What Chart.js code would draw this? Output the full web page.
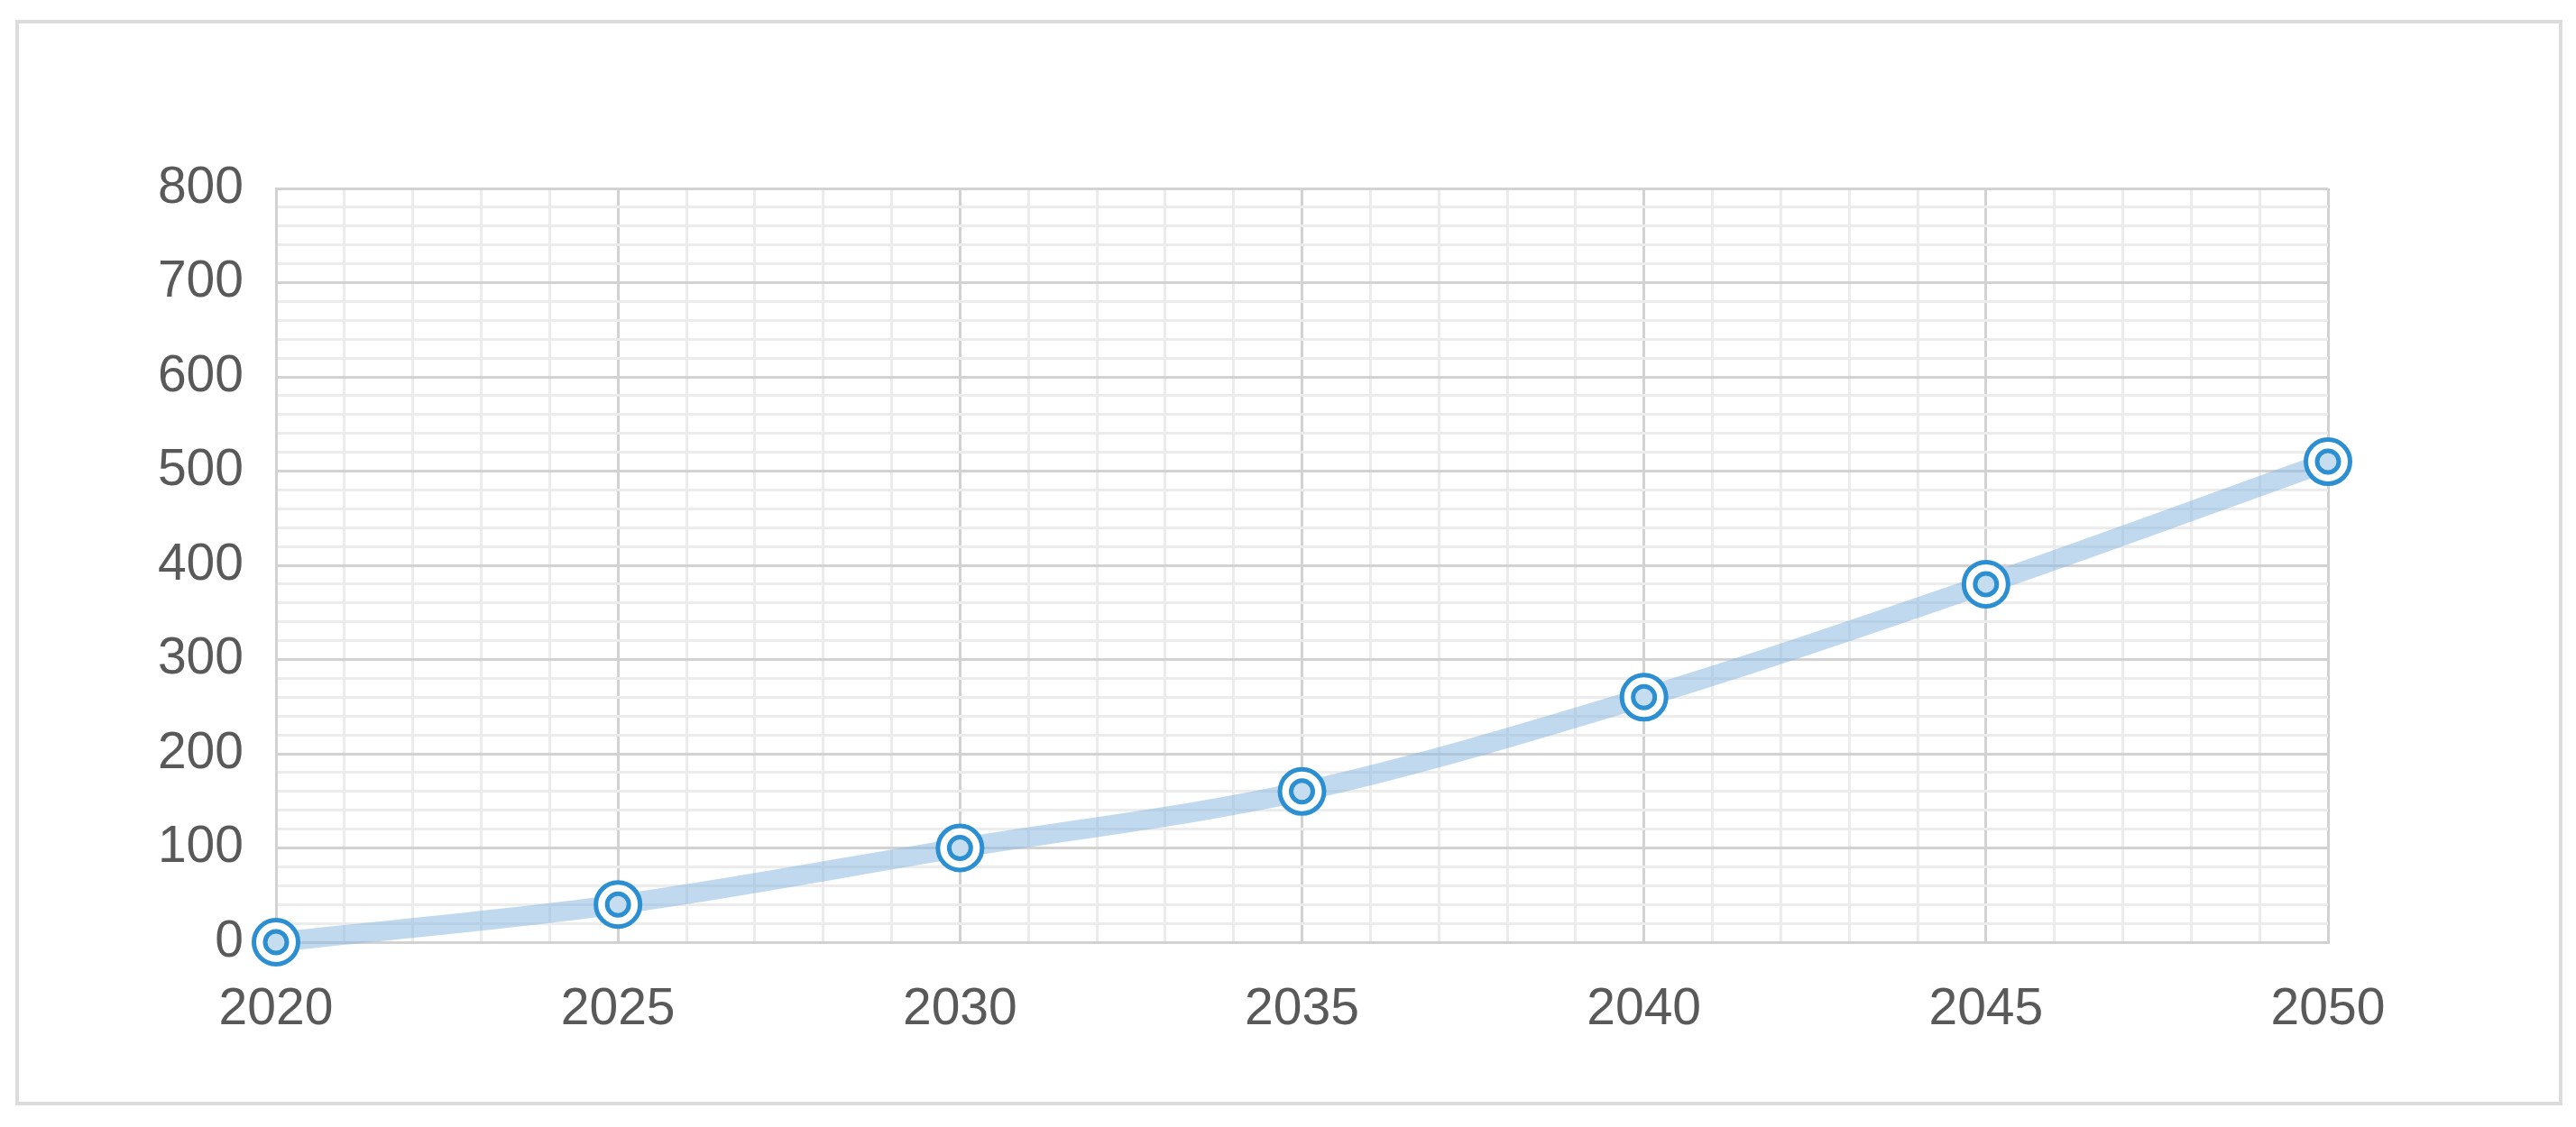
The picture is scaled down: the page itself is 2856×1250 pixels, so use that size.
<!DOCTYPE html>
<html>
<head>
<meta charset="utf-8">
<script src="https://cdn.jsdelivr.net/npm/chart.js@4"></script>
<style>
  html, body { margin: 0; padding: 0; background: #fff; }
  #frame {
    position: absolute; left: 17px; top: 22px; width: 2824px; height: 1204px;
    border: 4px solid #dcdcdc; box-sizing: border-box;
  }
  #wrap { position: absolute; left: 0; top: 0; width: 2856px; height: 1250px; }
</style>
</head>
<body>
<div id="frame"></div>
<div id="wrap"><canvas id="chart"></canvas></div>
<script>
// data
const years = [2020, 2025, 2030, 2035, 2040, 2045, 2050];
const values = [0, 40, 100, 160, 260, 380, 510];
const yTicks = [0, 100, 200, 300, 400, 500, 600, 700, 800];

const points = years.map((yr, i) => ({ x: yr, y: values[i] }));

const majorGrid = "#d2d2d2";
const minorGrid = "#ececec";
const textColor = "#595959";

const ctx = document.getElementById("chart").getContext("2d");

new Chart(ctx, {
    type: "line",
    data: {
        datasets: [
            {
                data: points,
                borderColor: "rgba(140,186,226,0.55)",
                borderWidth: 22,
                pointRadius: 0,
                cubicInterpolationMode: "monotone",
                clip: false,
                order: 3
            },
            {
                data: points,
                showLine: false,
                pointRadius: 24.5,
                pointBorderWidth: 5,
                pointBorderColor: "#2b8fd1",
                pointBackgroundColor: "#ffffff",
                clip: false,
                order: 2
            },
            {
                data: points,
                showLine: false,
                pointRadius: 12,
                pointBorderWidth: 5,
                pointBorderColor: "#2b8fd1",
                pointBackgroundColor: "#c6dcef",
                clip: false,
                order: 1
            }
        ]
    },
    options: {
        responsive: true,
        maintainAspectRatio: false,
        animation: false,
        layout: { padding: { left: 0, right: 275, top: 209, bottom: 0 } },
        plugins: { legend: { display: false }, tooltip: { enabled: false } },
        scales: {
            x: {
                type: "linear",
                min: years[0],
                max: years[years.length - 1],
                afterFit: (s) => { s.height = 205; },
                border: { color: majorGrid, width: 3 },
                grid: {
                    drawTicks: false,
                    lineWidth: 3,
                    color: (c) => (c.tick && c.tick.value % 5 === 0 ? majorGrid : minorGrid)
                },
                ticks: {
                    stepSize: 1,
                    autoSkip: false,
                    maxRotation: 0,
                    padding: 41,
                    color: textColor,
                    font: { family: "'Liberation Sans', Arial, sans-serif", size: 57 },
                    callback: (v) => (v % 5 === 0 ? String(v) : "")
                }
            },
            y: {
                min: yTicks[0],
                max: yTicks[yTicks.length - 1],
                afterFit: (s) => { s.width = 306; },
                border: { color: majorGrid, width: 3 },
                grid: {
                    drawTicks: false,
                    lineWidth: 3,
                    color: (c) => (c.tick && yTicks.includes(c.tick.value) ? majorGrid : minorGrid)
                },
                ticks: {
                    stepSize: 20,
                    autoSkip: false,
                    padding: 36,
                    color: textColor,
                    font: { family: "'Liberation Sans', Arial, sans-serif", size: 57 },
                    callback: (v) => (yTicks.includes(v) ? String(v) : "")
                }
            }
        }
    }
});
</script>
</body>
</html>
